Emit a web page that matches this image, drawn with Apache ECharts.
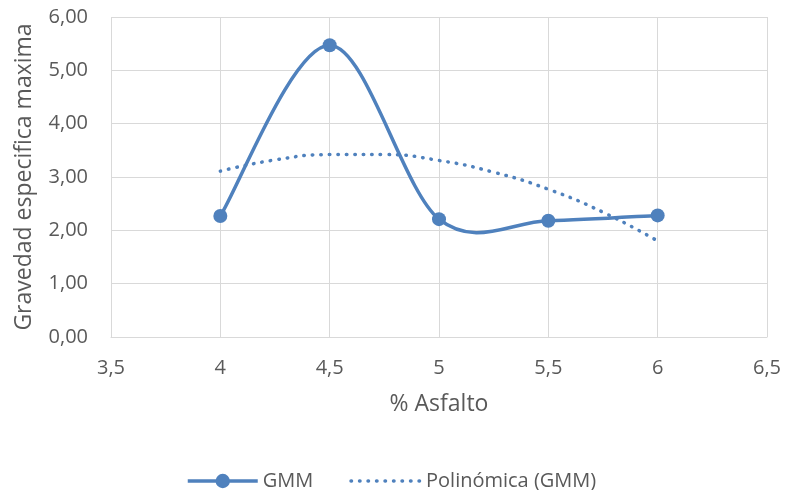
<!DOCTYPE html>
<html>
<head>
<meta charset="utf-8">
<script src="https://cdn.jsdelivr.net/npm/echarts@6/dist/echarts.min.js"></script>
<style>
  html, body { margin: 0; padding: 0; background: #fff; }
  #chart { width: 785px; height: 490px; }
</style>
</head>
<body>
<div id="chart"></div>
<script>
// % asphalt content and measured maximum specific gravity (GMM)
const asfalto = [4, 4.5, 5, 5.5, 6];
const gmm = [2.27, 5.47, 2.21, 2.18, 2.28];

// Polynomial trendline of GMM, sampled along the curve
const tendenciaX = [4, 4.25, 4.5, 4.75, 5, 5.25, 5.5, 5.75, 6];
const tendenciaY = [3.11, 3.32, 3.42, 3.42, 3.31, 3.09, 2.77, 2.34, 1.80];

const xTicks = { min: 3.5, max: 6.5, step: 0.5 };
const yTicks = { min: 0, max: 6, step: 1 };

const azul = '#4f81bd';
const gris = '#595959';
const rejilla = '#d9d9d9';
const fuente = '"Open Sans", "Liberation Sans", sans-serif';
const punteado = [0.5, 8];

// Smoothed GMM curve: cubic Bezier segments with Catmull-Rom style tangents
// (1/6 of the neighbour-to-neighbour vector), built in pixel space.
function curvaSuave(params, api) {
  if (params.dataIndex !== 0) return null;
  const p = asfalto.map((x, i) => api.coord([x, gmm[i]]));
  let d = `M${p[0][0]},${p[0][1]}`;
  for (let i = 0; i < p.length - 1; i++) {
    const a = p[i - 1] || p[i];
    const b = p[i];
    const c = p[i + 1];
    const e = p[i + 2] || p[i + 1];
    const c1 = [b[0] + (c[0] - a[0]) / 6, b[1] + (c[1] - a[1]) / 6];
    const c2 = [c[0] - (e[0] - b[0]) / 6, c[1] - (e[1] - b[1]) / 6];
    d += ` C${c1[0]},${c1[1]} ${c2[0]},${c2[1]} ${c[0]},${c[1]}`;
  }
  return {
    type: 'path',
    shape: { pathData: d },
    style: { stroke: azul, lineWidth: 3.5, fill: null, lineJoin: 'round', lineCap: 'round' },
    silent: true
  };
}

const chart = echarts.init(document.getElementById('chart'));
chart.setOption({
  animation: false,
  textStyle: { fontFamily: fuente },
  grid: { left: 111, right: 18, top: 17, bottom: 153 },
  legend: {
    top: 466,
    left: 181,
    itemGap: 36,
    itemWidth: 70,
    itemHeight: 18,
    textStyle: { color: gris, fontSize: 20, fontFamily: fuente },
    data: [
      { name: 'GMM', lineStyle: { opacity: 1, width: 3.5, color: azul } },
      {
        name: 'Polinómica (GMM)',
        itemStyle: { opacity: 0 },
        lineStyle: { width: 3.5, color: azul, type: punteado, cap: 'round' }
      }
    ]
  },
  xAxis: {
    type: 'value',
    min: xTicks.min,
    max: xTicks.max,
    interval: xTicks.step,
    name: '% Asfalto',
    nameLocation: 'middle',
    nameGap: 56,
    nameTextStyle: { color: gris, fontSize: 23 },
    axisLine: { show: true, lineStyle: { color: rejilla, width: 1 } },
    axisTick: { show: false },
    axisLabel: {
      color: gris, fontSize: 20, margin: 21,
      formatter: v => String(v).replace('.', ',')
    },
    splitLine: { show: true, lineStyle: { color: rejilla, width: 1 } }
  },
  yAxis: {
    type: 'value',
    min: yTicks.min,
    max: yTicks.max,
    interval: yTicks.step,
    name: 'Gravedad especifica maxima',
    nameLocation: 'middle',
    nameGap: 75,
    nameTextStyle: { color: gris, fontSize: 23 },
    axisLine: { show: false },
    axisTick: { show: false },
    axisLabel: {
      color: gris, fontSize: 20, margin: 23,
      formatter: v => v.toFixed(2).replace('.', ',')
    },
    splitLine: { show: true, lineStyle: { color: rejilla, width: 1 } }
  },
  series: [
    {
      type: 'custom',
      renderItem: curvaSuave,
      data: asfalto.map((x, i) => [x, gmm[i]]),
      z: 2
    },
    {
      name: 'GMM',
      type: 'line',
      data: asfalto.map((x, i) => [x, gmm[i]]),
      symbol: 'circle',
      symbolSize: 14,
      lineStyle: { color: azul, width: 3.5, opacity: 0 },
      itemStyle: { color: azul },
      z: 4
    },
    {
      name: 'Polinómica (GMM)',
      type: 'line',
      data: tendenciaX.map((x, i) => [x, tendenciaY[i]]),
      smooth: true,
      symbol: 'none',
      lineStyle: { color: azul, width: 3.5, type: punteado, cap: 'round' },
      itemStyle: { color: azul },
      z: 3
    }
  ]
});
</script>
</body>
</html>
